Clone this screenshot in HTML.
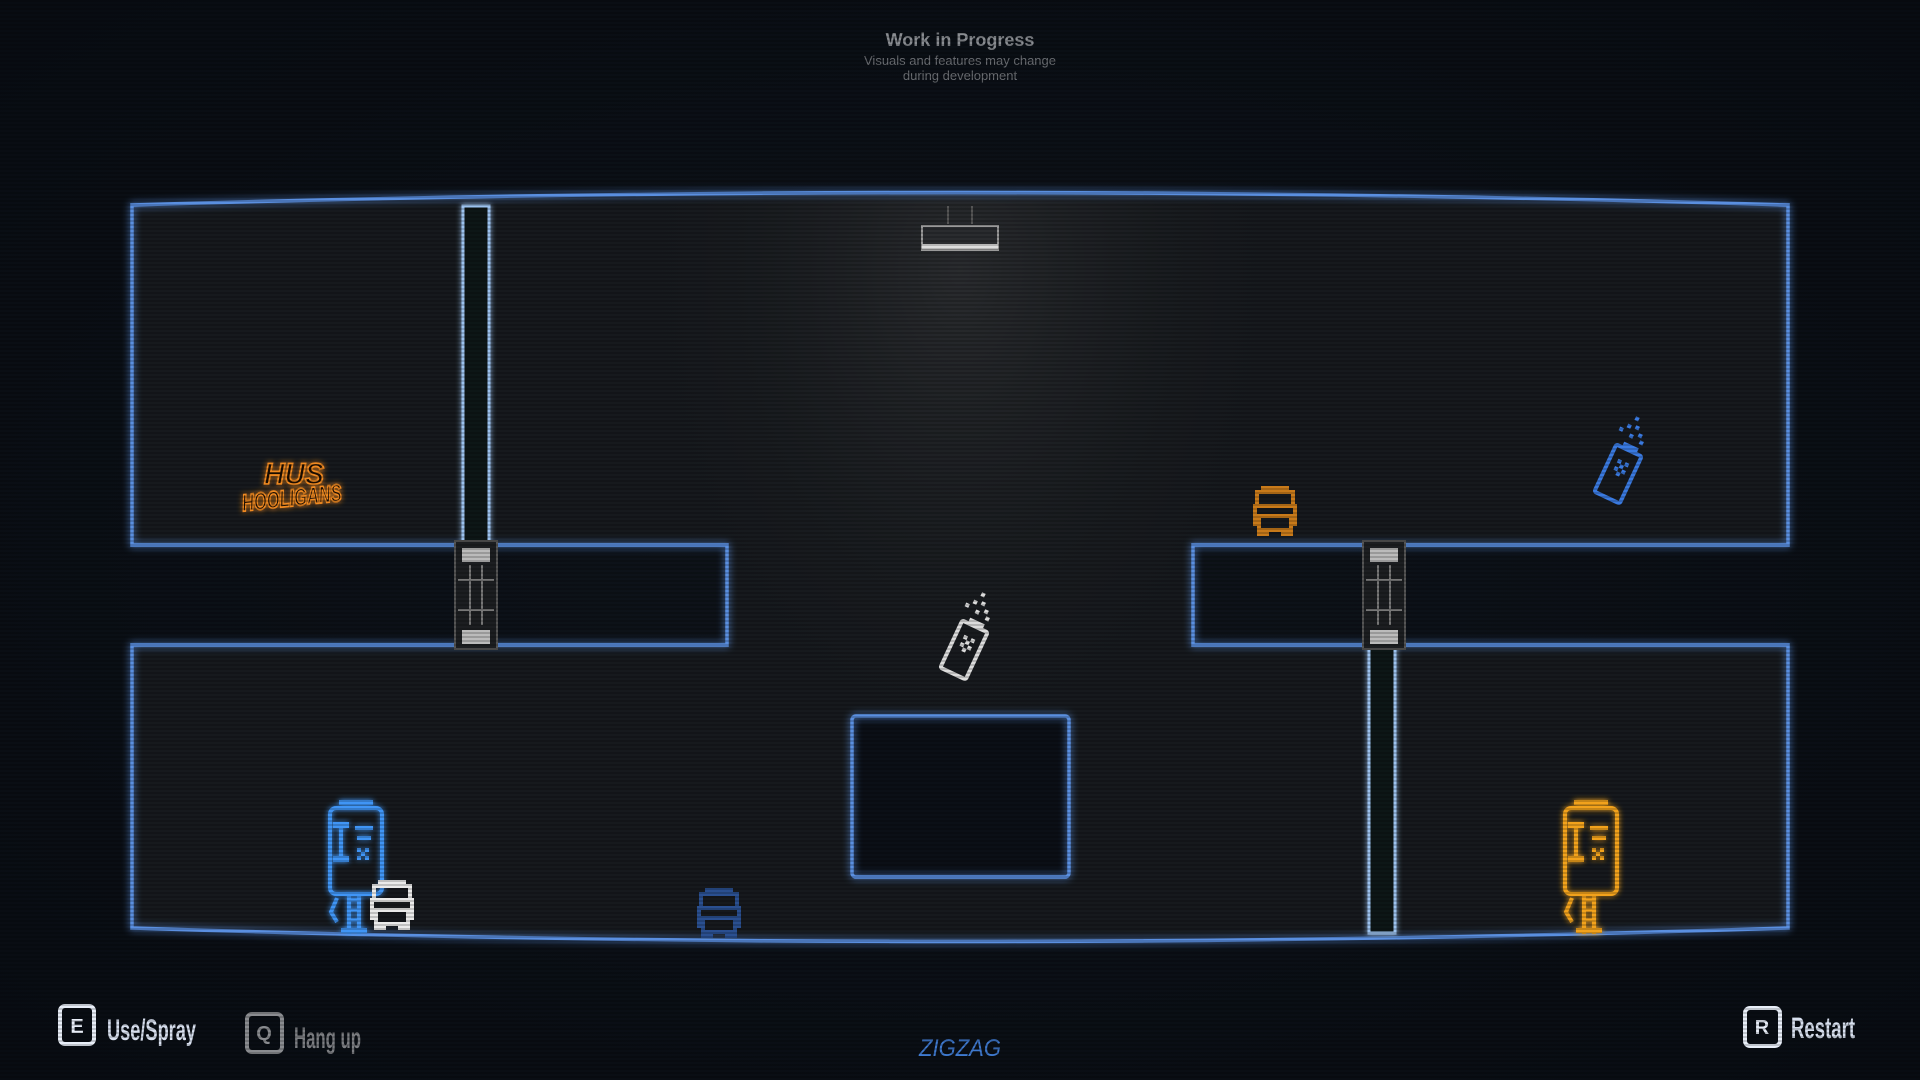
<!DOCTYPE html>
<html><head><meta charset="utf-8"><style>
html,body{margin:0;padding:0;background:#0b1017;width:1920px;height:1080px;overflow:hidden}
svg{display:block}
</style></head><body>
<svg width="1920" height="1080" viewBox="0 0 1920 1080" xmlns="http://www.w3.org/2000/svg">
<defs>
<radialGradient id="bg" cx="50%" cy="50%" r="70%">
<stop offset="0" stop-color="#0f141b"/><stop offset="1" stop-color="#080c12"/></radialGradient>
<radialGradient id="spot" cx="960" cy="260" r="330" gradientUnits="userSpaceOnUse" gradientTransform="translate(0,-120) scale(1,1.5)">
<stop offset="0" stop-color="#3a3b3d" stop-opacity="0.55"/><stop offset="1" stop-color="#1a1c1f" stop-opacity="0"/></radialGradient>
<filter id="glow" x="-10%" y="-10%" width="120%" height="120%"><feGaussianBlur stdDeviation="4" result="b"/><feMerge><feMergeNode in="b"/><feMergeNode in="SourceGraphic"/></feMerge></filter>
<filter id="glow2" x="-30%" y="-30%" width="160%" height="160%"><feGaussianBlur stdDeviation="3" result="b"/><feMerge><feMergeNode in="b"/><feMergeNode in="SourceGraphic"/></feMerge></filter>
<pattern id="scan" width="4" height="4" patternUnits="userSpaceOnUse"><rect width="4" height="2" fill="#000" opacity="0.18"/></pattern>
<g id="phone">
<rect x="3" y="8" width="52" height="86" rx="6" fill="none" stroke="currentColor" stroke-width="4"/>
<rect x="12" y="0" width="34" height="5" fill="currentColor"/>
<rect x="12" y="22" width="4" height="40" fill="currentColor"/><rect x="6" y="22" width="16" height="6" fill="currentColor"/><rect x="6" y="56" width="16" height="6" fill="currentColor"/>
<rect x="28" y="26" width="18" height="4" fill="currentColor"/><rect x="30" y="36" width="14" height="4" fill="currentColor"/>
<path d="M30 48h4v4h-4zM38 48h4v4h-4zM34 52h4v4h-4zM30 56h4v4h-4zM38 56h4v4h-4z" fill="currentColor"/>
<rect x="20" y="94" width="4" height="40" fill="currentColor"/><rect x="30" y="94" width="4" height="40" fill="currentColor"/>
<path d="M24 100h6M24 110h6M24 120h6" stroke="currentColor" stroke-width="3"/>
<path d="M10 98l-6 14 6 10" stroke="currentColor" stroke-width="4" fill="none"/>
<rect x="14" y="128" width="26" height="5" fill="currentColor"/>
</g>
<g id="dude">
<rect x="10" y="0" width="28" height="6" fill="currentColor"/>
<rect x="6" y="6" width="36" height="14" fill="none" stroke="currentColor" stroke-width="4"/>
<rect x="4" y="20" width="40" height="10" fill="none" stroke="currentColor" stroke-width="4"/>
<rect x="8" y="30" width="32" height="14" fill="none" stroke="currentColor" stroke-width="4"/>
<rect x="2" y="32" width="6" height="8" fill="currentColor"/><rect x="40" y="32" width="6" height="8" fill="currentColor"/>
<rect x="6" y="44" width="12" height="6" fill="currentColor"/><rect x="30" y="44" width="12" height="6" fill="currentColor"/>
</g>
<g id="can">
<rect x="-14" y="-26" width="28" height="52" rx="2" fill="none" stroke="currentColor" stroke-width="4"/>
<rect x="-8" y="-32" width="16" height="6" fill="currentColor"/>
<path d="M-6 -14h4v4h-4zM2 -14h4v4h-4zM-2 -10h4v4h-4zM-6 -6h4v4h-4zM2 -6h4v4h-4zM-2 -2h4v4h-4z" fill="currentColor"/>
<path d="M-6 -42h4v4h-4zM2 -46h4v4h-4zM-12 -50h4v4h-4zM-4 -52h4v4h-4zM6 -40h4v4h-4zM-8 -60h4v4h-4zM-18 -44h4v4h-4z" fill="currentColor"/>
</g>
</defs>
<rect width="1920" height="1080" fill="url(#bg)"/>

<text x="960" y="46" font-family="Liberation Sans, sans-serif" font-size="18" font-weight="bold" fill="#8a8d92" text-anchor="middle">Work in Progress</text>
<text x="960" y="65" font-family="Liberation Sans, sans-serif" font-size="13" fill="#6a6d72" text-anchor="middle">Visuals and features may change</text>
<text x="960" y="80" font-family="Liberation Sans, sans-serif" font-size="13" fill="#6a6d72" text-anchor="middle">during development</text>

<path d="M132 205 Q960 180 1788 205 L1788 545 L1193 545 L1193 645 L1788 645 L1788 928 Q960 955 132 928 L132 645 L727 645 L727 545 L132 545 Z" fill="#16191d"/>
<path d="M132 205 Q960 180 1788 205 L1788 545 L1193 545 L1193 645 L1788 645 L1788 928 Q960 955 132 928 L132 645 L727 645 L727 545 L132 545 Z" fill="url(#spot)"/>
<rect x="852" y="716" width="217" height="161" fill="#0b0f16"/>
<path d="M132 205 Q960 180 1788 205 L1788 545 L1193 545 L1193 645 L1788 645 L1788 928 Q960 955 132 928 L132 645 L727 645 L727 545 L132 545 Z" fill="none" stroke="#5a8fe0" stroke-width="3.5" filter="url(#glow)"/>
<rect x="852" y="716" width="217" height="161" rx="4" fill="none" stroke="#5a8fe0" stroke-width="3.5" filter="url(#glow)"/>

<path d="M948 206v18M972 206v18" stroke="#555" stroke-width="2"/>
<rect x="922" y="226" width="76" height="24" fill="#2a2c2f" stroke="#999" stroke-width="2"/>
<rect x="922" y="244" width="76" height="5" fill="#ddd"/>

<rect x="463" y="206" width="26" height="336" fill="#0e1218" stroke="#9cc2ee" stroke-width="3" filter="url(#glow2)"/>
<rect x="455" y="541" width="42" height="108" fill="#1c1e21" stroke="#555" stroke-width="2"/>
<rect x="462" y="548" width="28" height="14" fill="#bbb"/><rect x="462" y="630" width="28" height="14" fill="#bbb"/>
<path d="M470 565v60M482 565v60M458 580h36M458 610h36" stroke="#777" stroke-width="2"/>
<rect x="1369" y="645" width="26" height="288" fill="#0e1218" stroke="#9cc2ee" stroke-width="3" filter="url(#glow2)"/>
<rect x="1363" y="541" width="42" height="108" fill="#1c1e21" stroke="#555" stroke-width="2"/>
<rect x="1370" y="548" width="28" height="14" fill="#bbb"/><rect x="1370" y="630" width="28" height="14" fill="#bbb"/>
<path d="M1378 565v60M1390 565v60M1366 580h36M1366 610h36" stroke="#777" stroke-width="2"/>

<g filter="url(#glow2)">
<text x="294" y="484" font-family="Liberation Sans, sans-serif" font-style="italic" font-weight="bold" font-size="30" fill="#1a0e05" stroke="#f08a20" stroke-width="1.8" text-anchor="middle" textLength="60" lengthAdjust="spacingAndGlyphs">HUS</text>
<text x="292" y="506" font-family="Liberation Sans, sans-serif" font-style="italic" font-weight="bold" font-size="24" fill="#1a0e05" stroke="#f08a20" stroke-width="1.8" text-anchor="middle" textLength="100" lengthAdjust="spacingAndGlyphs" transform="rotate(-6 292 500)">HOOLIGANS</text>
</g>

<use href="#dude" x="1251" y="486" style="color:#c87a1a"/>
<g transform="translate(1618 474) rotate(25)" style="color:#3a7ae0"><use href="#can"/></g>
<g transform="translate(964 650) rotate(25)" style="color:#dcdcdc"><use href="#can"/></g>
<g filter="url(#glow2)"><use href="#phone" x="327" y="800" style="color:#3f95f5"/></g>
<use href="#dude" x="368" y="880" style="color:#eaeaea"/>
<use href="#dude" x="695" y="888" style="color:#2a4f90"/>
<g filter="url(#glow2)"><use href="#phone" x="1562" y="800" style="color:#f2a21e"/></g>

<g font-family="Liberation Sans, sans-serif" font-weight="bold">
<rect x="60" y="1006" width="34" height="38" rx="5" fill="none" stroke="#e8eef8" stroke-width="4"/>
<text x="77" y="1033" font-size="20" fill="#e8eef8" text-anchor="middle">E</text>
<text x="107" y="1040" font-size="30" fill="#d8e0ef" textLength="89" lengthAdjust="spacingAndGlyphs">Use/Spray</text>
<rect x="247" y="1014" width="35" height="38" rx="5" fill="none" stroke="#8a8c90" stroke-width="4"/>
<text x="264" y="1040" font-size="20" fill="#8a8c90" text-anchor="middle">Q</text>
<text x="294" y="1048" font-size="30" fill="#7c7e82" textLength="67" lengthAdjust="spacingAndGlyphs">Hang up</text>
<rect x="1745" y="1008" width="35" height="38" rx="5" fill="none" stroke="#e8eef8" stroke-width="4"/>
<text x="1762" y="1034" font-size="20" fill="#e8eef8" text-anchor="middle">R</text>
<text x="1791" y="1038" font-size="30" fill="#d8e0ef" textLength="64" lengthAdjust="spacingAndGlyphs">Restart</text>
</g>
<text x="960" y="1056" font-family="Liberation Sans, sans-serif" font-style="italic" font-size="24" fill="#3f7ad0" text-anchor="middle" textLength="82" lengthAdjust="spacingAndGlyphs">ZIGZAG</text>

<rect width="1920" height="1080" fill="url(#scan)"/>
</svg>
</body></html>
